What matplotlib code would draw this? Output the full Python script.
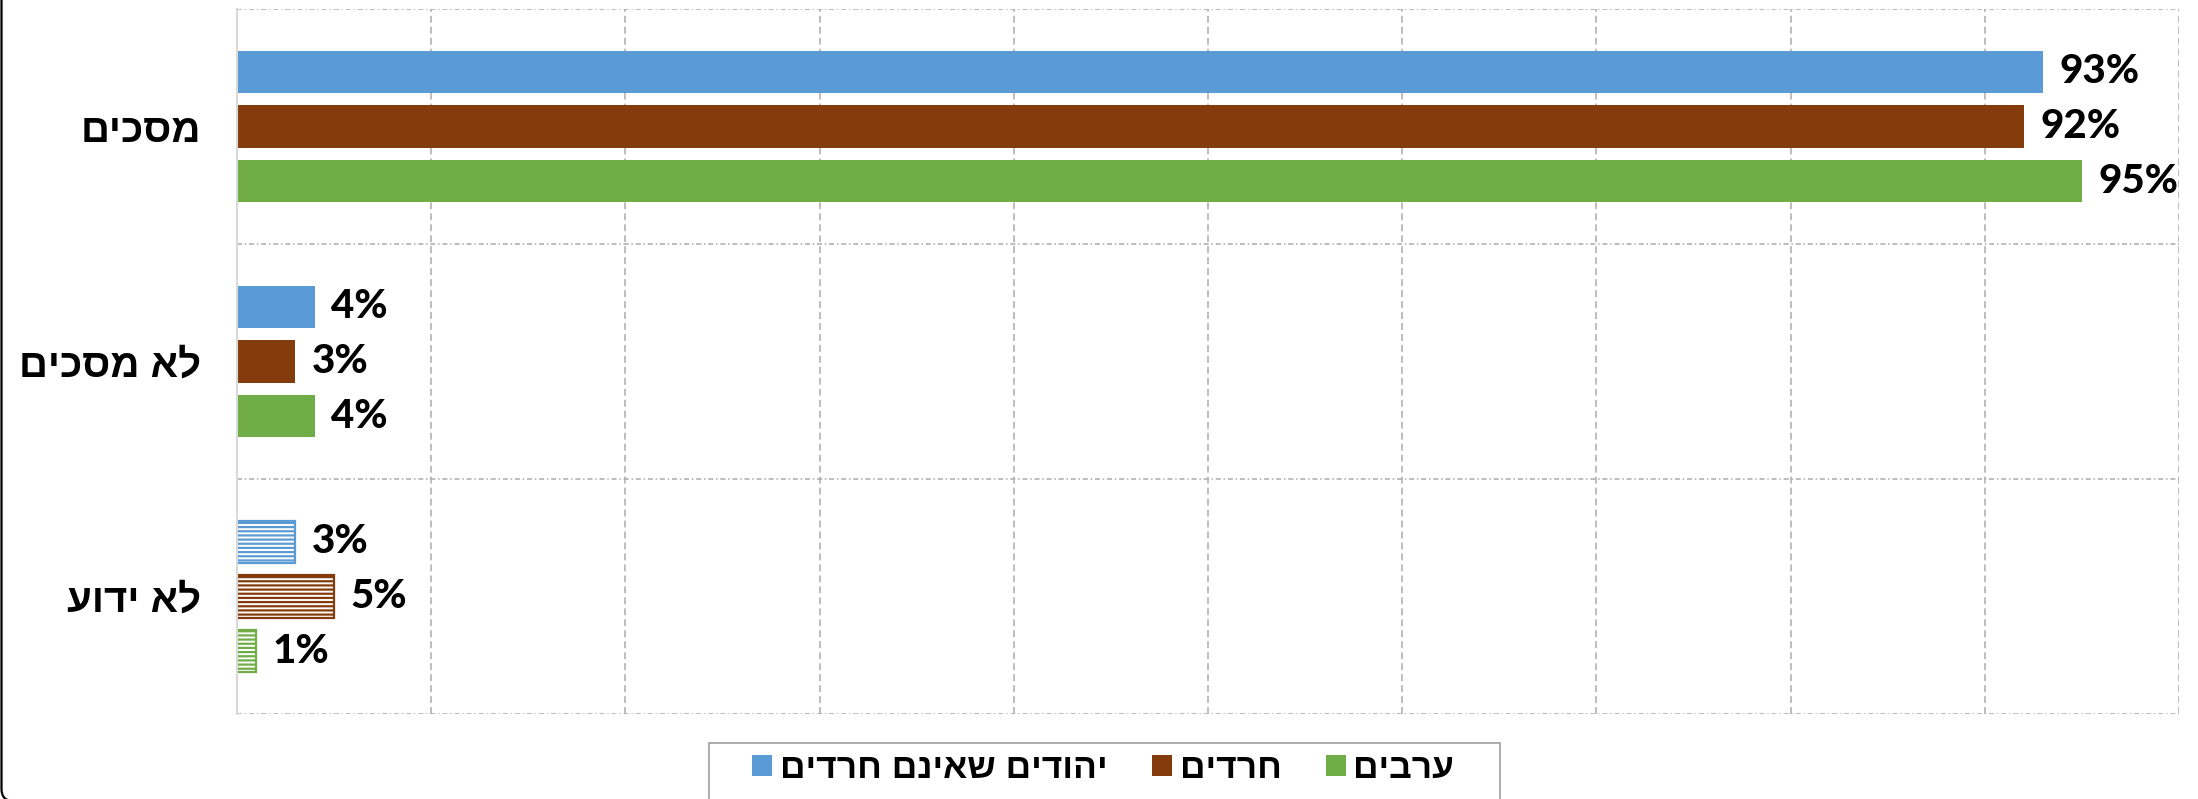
import matplotlib
matplotlib.use("Agg")
import matplotlib.pyplot as plt
import numpy as np
from matplotlib.patches import Patch, Rectangle, FancyBboxPatch

# ---- data ----
categories = ["מסכים", "לא מסכים", "לא ידוע"]
series_names = ["יהודים שאינם חרדים", "חרדים", "ערבים"]
series_colors = ["#5B9BD5", "#843C0C", "#70AD47"]
values = {
    "יהודים שאינם חרדים": [93, 4, 3],
    "חרדים": [92, 3, 5],
    "ערבים": [95, 4, 1],
}
hatched_category = "לא ידוע"
xticks = [0, 10, 20, 30, 40, 50, 60, 70, 80, 90, 100]


def rtl(s):
    # matplotlib draws left-to-right; reverse Hebrew for visual order
    return s[::-1]


plt.rcParams["lines.scale_dashes"] = False
plt.rcParams["hatch.linewidth"] = 1.6

W, H = 2198, 799
fig = plt.figure(figsize=(W / 100, H / 100), dpi=100)
ax = fig.add_axes([237 / W, 1 - 714 / H, (2179 - 237) / W, (714 - 9) / H])

heb_font = "Liberation Sans"
num_font = "Lato"

n = len(series_names)
offset = 0.232
bar_h = 0.179
ypos = np.arange(len(categories))

grid_color = "#ABABAB"
for xv in xticks[1:]:
    ax.axvline(xv, color=grid_color, lw=1.1, dashes=(5, 2.9), zorder=0)
for yv in np.arange(-0.5, len(categories) + 0.5, 1.0):
    ax.axhline(yv, color=grid_color, lw=1.1, dashes=(3.6, 2.0, 1.1, 2.0), zorder=0)

for i, name in enumerate(series_names):
    col = series_colors[i]
    vals = values[name]
    for j, cat in enumerate(categories):
        y = ypos[j] + (i - 1) * offset
        v = vals[j]
        if cat == hatched_category:
            ax.barh(y, v, height=bar_h, color="white", edgecolor=col,
                    hatch="----", linewidth=1.6, zorder=2)
        else:
            ax.barh(y, v, height=bar_h, color=col, edgecolor="none", zorder=2)
        ax.annotate(f"{v}%", xy=(v, y), xytext=(12, 0), textcoords="offset points",
                    ha="left", va="center", fontsize=29, fontweight="black",
                    family=num_font, color="black", zorder=3)

ax.set_xlim(0, 100)
ax.set_ylim(len(categories) - 0.5, -0.5)
ax.set_xticks([])
ax.set_yticks(ypos)
ax.set_yticklabels([rtl(c) for c in categories], fontsize=29, fontweight="bold",
                   family=heb_font)
ax.tick_params(axis="y", length=0, pad=26)
for s in ["top", "right", "bottom"]:
    ax.spines[s].set_visible(False)
ax.spines["left"].set_color("#D9D9D9")
ax.spines["left"].set_linewidth(1.5)
ax.spines["left"].set_zorder(3)

# legend frame
fig.patches.append(Rectangle((709 / W, -0.05), (1500 - 709) / W, 0.05 + (799 - 743) / H,
                             transform=fig.transFigure, facecolor="white",
                             edgecolor="#A6A6A6", lw=1.3, zorder=1))
handles = [Patch(facecolor=series_colors[i], edgecolor="none") for i in range(n)]
fs_leg = 25.5
em = fs_leg * 100 / 72
leg = fig.legend(handles, [rtl(s) for s in series_names], ncol=3,
                 loc="upper left", bbox_to_anchor=(752 / W, 1 - 752 / H),
                 frameon=False, borderpad=0, borderaxespad=0,
                 handlelength=20 / em, handleheight=20 / em,
                 handletextpad=8 / em, columnspacing=44 / em,
                 prop={"family": heb_font, "weight": "bold", "size": fs_leg})
leg.set_zorder(2)

# outer rounded frame (partly visible at left)
fig.patches.append(FancyBboxPatch((0.015, -0.02), 30, 20,
                                  boxstyle="round,pad=0,rounding_size=0.12",
                                  transform=fig.dpi_scale_trans, facecolor="none",
                                  edgecolor="black", lw=1.6, zorder=5))

fig.savefig("out.png", dpi=100, facecolor="white")
